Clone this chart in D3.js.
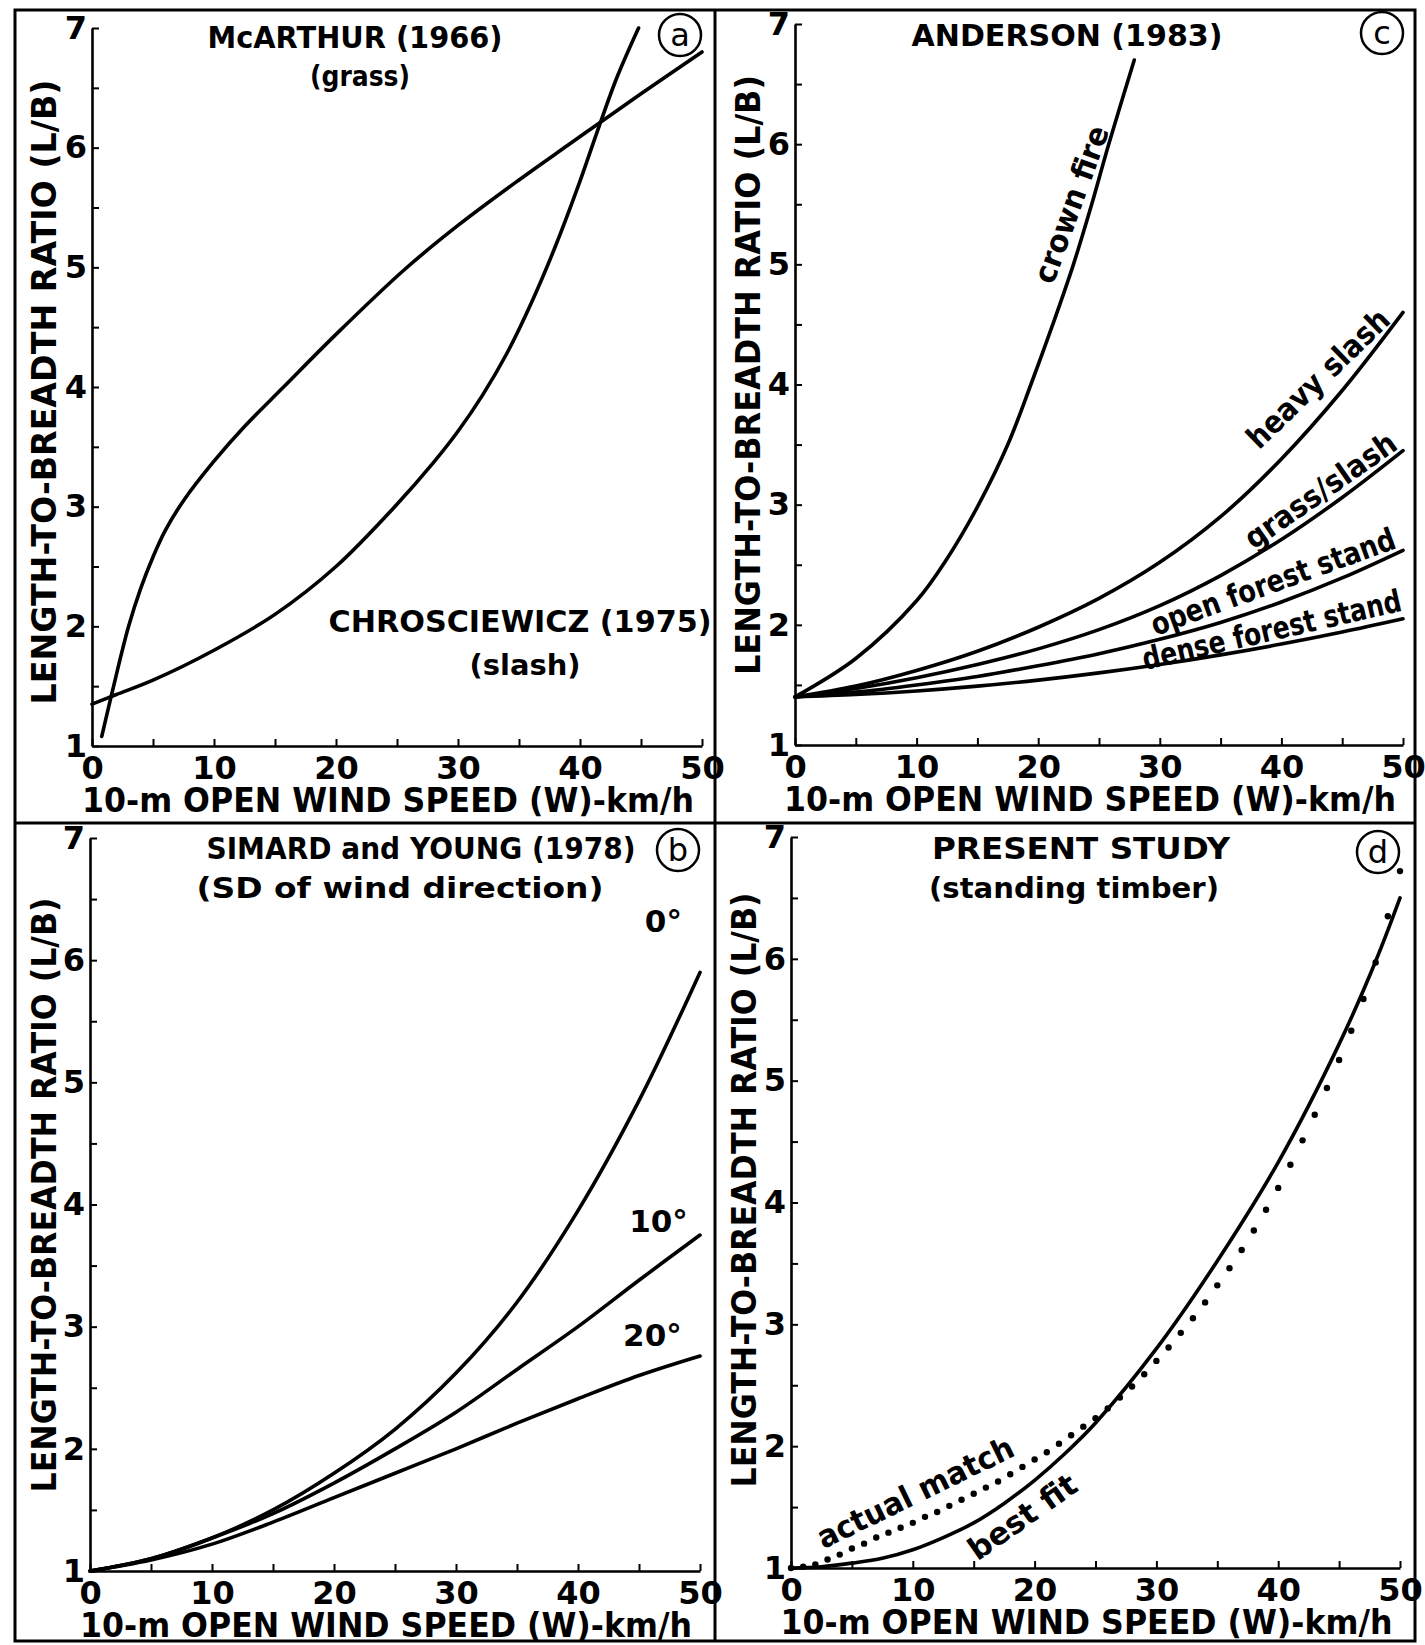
<!DOCTYPE html>
<html>
<head>
<meta charset="utf-8">
<script src="https://cdn.jsdelivr.net/npm/d3@7"></script>
<style>
  body { margin: 0; background: #fff; }
  svg text { font-family: "DejaVu Sans", sans-serif; font-weight: bold; fill: #000; }
</style>
</head>
<body>
<div id="chart"></div>
<script>
// ---- data ----
var xTicks = [0, 5, 10, 15, 20, 25, 30, 35, 40, 45, 50];
var yTicks = [1, 1.5, 2, 2.5, 3, 3.5, 4, 4.5, 5, 5.5, 6, 6.5, 7];

// (a) McArthur grass / Chrosciewicz slash
var mcarthurW  = [0.8, 1.7, 3, 4, 5, 6, 7.5, 10, 12.5, 15.7, 20, 25.6, 30, 35, 39, 41.5, 45, 50];
var mcarthurLB = [1.08, 1.47, 2.0, 2.32, 2.58, 2.8, 3.05, 3.38, 3.67, 4.0, 4.44, 4.98, 5.35, 5.73, 6.02, 6.2, 6.45, 6.8];
var chrosW  = [0, 2, 5, 10, 15, 20, 25, 28, 30, 32, 34, 36, 38, 40, 41.4, 43, 44.8];
var chrosLB = [1.35, 1.43, 1.55, 1.8, 2.1, 2.5, 3.02, 3.37, 3.63, 3.93, 4.28, 4.7, 5.18, 5.72, 6.13, 6.58, 7.0];

// (c) Anderson 1983
var andersonW = [0, 5, 10, 15, 20, 25, 30, 35, 40, 45, 50];
var crownW  = [0, 5, 10, 12.5, 15.1, 17.5, 19.4, 21.2, 22.9, 24.4, 25.8, 27.9];
var crownLB = [1.4, 1.72, 2.2, 2.55, 3.0, 3.5, 4.0, 4.5, 5.0, 5.5, 6.0, 6.7];
var heavySlashLB = [1.4, 1.49, 1.62, 1.78, 1.98, 2.22, 2.52, 2.9, 3.38, 3.95, 4.6];
var grassSlashLB = [1.4, 1.47, 1.56, 1.67, 1.8, 1.96, 2.16, 2.41, 2.71, 3.06, 3.45];
var openForestLB = [1.4, 1.44, 1.5, 1.57, 1.66, 1.76, 1.88, 2.02, 2.19, 2.39, 2.62];
var denseForestLB = [1.4, 1.42, 1.45, 1.49, 1.54, 1.6, 1.67, 1.75, 1.84, 1.94, 2.05];

// (b) Simard and Young 1978, SD of wind direction
var simardW = [0, 5, 10, 15, 20, 25, 30, 35, 40, 45, 50];
var sd0LB  = [1, 1.1, 1.27, 1.5, 1.8, 2.16, 2.62, 3.2, 3.95, 4.85, 5.9];
var sd10LB = [1, 1.1, 1.27, 1.47, 1.72, 2.0, 2.3, 2.65, 3.0, 3.38, 3.75];
var sd20LB = [1, 1.09, 1.22, 1.4, 1.6, 1.8, 2.0, 2.21, 2.41, 2.6, 2.76];

// (d) present study
var bestFitW  = [0, 2.5, 5, 7.5, 10, 12.5, 15, 17.5, 20, 22.5, 25, 30, 35, 40, 45, 48, 50];
var bestFitLB = [1.0, 1.01, 1.04, 1.08, 1.15, 1.25, 1.37, 1.53, 1.72, 1.94, 2.19, 2.8, 3.52, 4.33, 5.3, 5.98, 6.5];
var actualW  = [0, 1, 2, 3, 4, 5, 6, 7, 8, 9, 10, 11, 12, 13, 14, 15, 16, 17, 18, 19, 20,
                21, 22, 23, 24, 25, 26, 27, 28, 29, 30, 31, 32, 33, 34, 35, 36, 37, 38, 39, 40,
                41, 42, 43, 44, 45, 46, 47, 48, 49, 50];
var actualLB = [1.0, 1.01, 1.03, 1.07, 1.11, 1.16, 1.2, 1.25, 1.29, 1.33, 1.37, 1.42, 1.46, 1.51, 1.56,
                1.61, 1.66, 1.71, 1.77, 1.83, 1.89, 1.95, 2.02, 2.09, 2.16, 2.23, 2.31, 2.4, 2.49, 2.59,
                2.7, 2.81, 2.93, 3.05, 3.18, 3.32, 3.46, 3.61, 3.77, 3.94, 4.12, 4.31, 4.51, 4.72, 4.94,
                5.17, 5.41, 5.67, 5.97, 6.35, 6.72];

function pairs(xs, ys) {
  return xs.map(function(d, i) { return [d, ys[i]]; });
}

// ---- layout ----
var W = 1425, H = 1645;
var svg = d3.select("#chart").append("svg")
  .attr("width", W).attr("height", H);

// outer frame + dividers
svg.append("rect").attr("x", 15).attr("y", 10).attr("width", 1400).attr("height", 1631)
  .attr("fill", "none").attr("stroke", "#000").attr("stroke-width", 3);
svg.append("line").attr("x1", 715).attr("x2", 715).attr("y1", 10).attr("y2", 1641)
  .attr("stroke", "#000").attr("stroke-width", 3);
svg.append("line").attr("x1", 15).attr("x2", 1415).attr("y1", 823).attr("y2", 823)
  .attr("stroke", "#000").attr("stroke-width", 3);

var panels = [
  { key: "a", left: 92, right: 702, top: 28, bottom: 746, circle: [680, 35],
    yTitle: { x: 44, y: 392, len: 625 },
    titles: [
      { t: "McARTHUR (1966)", cx: 355, cy: 37, w: 295, fs: 31 },
      { t: "(grass)", cx: 360, cy: 76, w: 100, fs: 28 },
      { t: "CHROSCIEWICZ (1975)", cx: 520, cy: 621, w: 383, fs: 31 },
      { t: "(slash)", cx: 525, cy: 665, w: 111, fs: 28 }
    ],
    lines: [ pairs(mcarthurW, mcarthurLB), pairs(chrosW, chrosLB) ],
    labels: [] },
  { key: "c", left: 795, right: 1403, top: 24, bottom: 745, circle: [1382, 33],
    yTitle: { x: 748, y: 375, len: 600 },
    titles: [ { t: "ANDERSON (1983)", cx: 1067, cy: 35, w: 311, fs: 31 } ],
    lines: [ pairs(crownW, crownLB), pairs(andersonW, heavySlashLB), pairs(andersonW, grassSlashLB),
             pairs(andersonW, openForestLB), pairs(andersonW, denseForestLB) ],
    labels: [
      { t: "crown fire", w: 22.7, lb: 5.5, rot: -70, len: 165 },
      { t: "heavy slash", w: 43.0, lb: 4.05, rot: -44, len: 185 },
      { t: "grass/slash", w: 43.2, lb: 3.12, rot: -35, len: 178 },
      { t: "open forest stand", w: 39.3, lb: 2.36, rot: -20, len: 258 },
      { t: "dense forest stand", w: 39.2, lb: 1.96, rot: -13, len: 265 }
    ] },
  { key: "b", left: 90, right: 700, top: 838, bottom: 1571, circle: [678, 850],
    yTitle: { x: 44, y: 1195, len: 595 },
    titles: [
      { t: "SIMARD and YOUNG (1978)", cx: 421, cy: 848, w: 429, fs: 31 },
      { t: "(SD of wind direction)", cx: 400, cy: 888, w: 407, fs: 29 }
    ],
    lines: [ pairs(simardW, sd0LB), pairs(simardW, sd10LB), pairs(simardW, sd20LB) ],
    labels: [
      { t: "0°", w: 47, lb: 6.32, rot: 0, len: 0 },
      { t: "10°", w: 46.6, lb: 3.86, rot: 0, len: 0 },
      { t: "20°", w: 46.1, lb: 2.93, rot: 0, len: 0 }
    ] },
  { key: "d", left: 791, right: 1400, top: 837, bottom: 1568, circle: [1378, 852],
    yTitle: { x: 744, y: 1190, len: 595 },
    titles: [
      { t: "PRESENT STUDY", cx: 1081, cy: 848, w: 298, fs: 31 },
      { t: "(standing timber)", cx: 1074, cy: 888, w: 290, fs: 29 }
    ],
    lines: [ pairs(bestFitW, bestFitLB) ],
    dots: pairs(actualW, actualLB),
    labels: [
      { t: "actual match", w: 10.2, lb: 1.62, rot: -26, len: 215 },
      { t: "best fit", w: 19.0, lb: 1.42, rot: -35, len: 125 }
    ] }
];

panels.forEach(drawPanel);

function drawPanel(p) {
  var x = d3.scaleLinear().domain([0, 50]).range([p.left, p.right]);
  var y = d3.scaleLinear().domain([1, 7]).range([p.bottom, p.top]);
  var g = svg.append("g").attr("class", "panel-" + p.key);

  // axes, ticks pointing inward
  var xAxisG = g.append("g").attr("transform", "translate(0," + y(1) + ")")
    .call(d3.axisBottom(x).tickValues(xTicks).tickSize(-7).tickSizeOuter(0).tickPadding(10)
      .tickFormat(function(d) { return d % 10 === 0 ? d : ""; }));
  var yAxisG = g.append("g").attr("transform", "translate(" + x(0) + ",0)")
    .call(d3.axisLeft(y).tickValues(yTicks).tickSize(-7).tickSizeOuter(0).tickPadding(5)
      .tickFormat(function(d) { return Number.isInteger(d) ? d : ""; }));
  [xAxisG, yAxisG].forEach(function(a) {
    a.attr("font-family", null).attr("font-size", null);
    a.select(".domain").attr("stroke-width", 2.6);
    a.selectAll(".tick line").attr("stroke-width", 2);
    a.selectAll(".tick text").style("font-size", "32px");
  });

  // axis titles
  g.append("text")
    .attr("transform", "translate(" + p.yTitle.x + "," + p.yTitle.y + ") rotate(-90)")
    .attr("text-anchor", "middle").attr("dy", "0.36em")
    .attr("textLength", p.yTitle.len).attr("lengthAdjust", "spacingAndGlyphs")
    .style("font-size", "33px")
    .text("LENGTH-TO-BREADTH RATIO (L/B)");
  g.append("text")
    .attr("x", (p.left + p.right) / 2 - 9).attr("y", p.bottom + 66)
    .attr("text-anchor", "middle")
    .attr("textLength", 612).attr("lengthAdjust", "spacingAndGlyphs")
    .style("font-size", "33px")
    .text("10-m OPEN WIND SPEED (W)-km/h");

  // titles
  p.titles.forEach(function(t) {
    g.append("text").attr("x", t.cx).attr("y", t.cy + 0.36 * t.fs)
      .attr("text-anchor", "middle")
      .attr("textLength", t.w).attr("lengthAdjust", "spacingAndGlyphs")
      .style("font-size", t.fs + "px")
      .text(t.t);
  });

  // circled panel letter
  g.append("circle").attr("cx", p.circle[0]).attr("cy", p.circle[1]).attr("r", 21)
    .attr("fill", "#fff").attr("stroke", "#000").attr("stroke-width", 2.5);
  g.append("text").attr("x", p.circle[0]).attr("y", p.circle[1]).attr("dy", "0.33em")
    .attr("text-anchor", "middle").style("font-size", "32px").style("font-weight", "normal")
    .text(p.key);

  // curves
  var line = d3.line()
    .x(function(d) { return x(d[0]); })
    .y(function(d) { return y(d[1]); })
    .curve(d3.curveCatmullRom.alpha(0.5));
  g.selectAll("path.curve").data(p.lines).enter().append("path")
    .attr("class", "curve")
    .attr("d", line)
    .attr("fill", "none").attr("stroke", "#000").attr("stroke-width", 3.6)
    .attr("stroke-linecap", "round");

  if (p.dots) {
    g.selectAll("circle.dot").data(p.dots).enter().append("circle")
      .attr("class", "dot")
      .attr("cx", function(d) { return x(d[0]); })
      .attr("cy", function(d) { return y(d[1]); })
      .attr("r", 3.2).attr("fill", "#000");
  }

  // curve labels
  p.labels.forEach(function(l) {
    var t = g.append("text")
      .attr("transform", "translate(" + x(l.w) + "," + y(l.lb) + ") rotate(" + l.rot + ")")
      .attr("text-anchor", "middle").attr("dy", "0.35em")
      .style("font-size", "31px").style("font-weight", "600")
      .text(l.t);
    if (l.len) t.attr("textLength", l.len).attr("lengthAdjust", "spacingAndGlyphs");
  });
}
</script>
</body>
</html>
